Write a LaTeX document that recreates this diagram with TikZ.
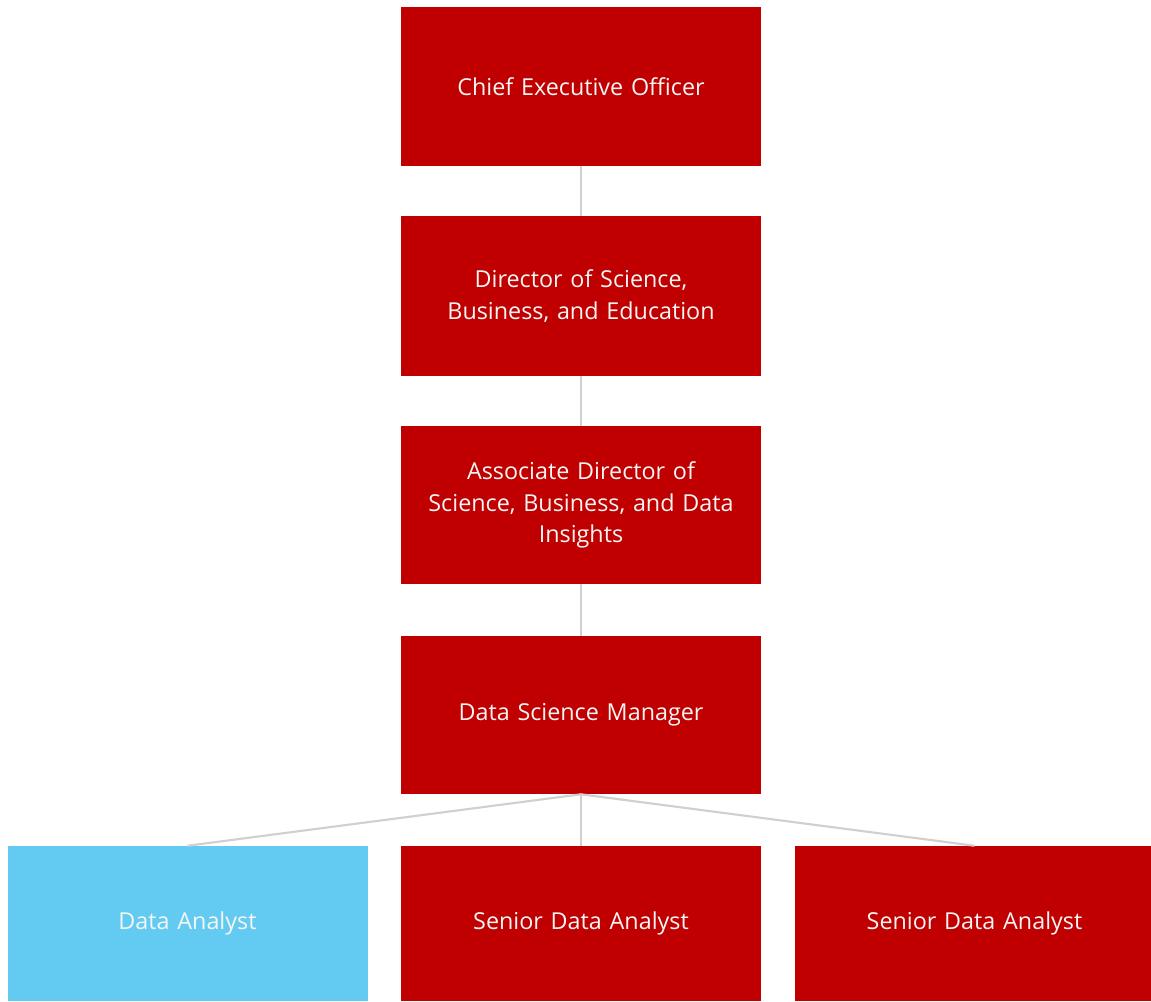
\documentclass[tikz,border=0pt]{standalone}
\usepackage{fontspec}
\setmainfont{Open Sans}
\definecolor{boxred}{HTML}{C00000}
\definecolor{boxblue}{HTML}{63CBF2}
\definecolor{linegray}{HTML}{D0D0D0}
\definecolor{txt}{HTML}{F5F5F5}
\begin{document}
\begin{tikzpicture}[x=0.75pt,y=-0.75pt,
  orgbox/.style={rectangle, fill=boxred, draw=none, minimum width=270pt, minimum height=#1, inner sep=0pt,
    text=txt, align=center, text width=260pt, font=\fontsize{17.5}{23.5}\selectfont},
  orgbox/.default=119.25pt,
  link/.style={draw=linegray, line width=1.6pt}]
\useasboundingbox (0,0) rectangle (1151,1001);
\clip (0,0) rectangle (1151,1001);
\node[orgbox=119.25pt] (ceo) at (581,86.5) {Chief Executive Officer};
\node[orgbox=120pt] (dir) at (581,296) {Director of Science,\\Business, and Education};
\node[orgbox=118.5pt] (adir) at (581,505) {Associate Director of\\Science, Business, and Data\\Insights};
\node[orgbox=118.5pt] (mgr) at (581,715) {Data Science Manager};
\node[orgbox=116.25pt, fill=boxblue] (da) at (187.5,923.5) {Data Analyst};
\node[orgbox=116.25pt] (sda1) at (581,923.5) {Senior Data Analyst};
\node[orgbox=116.25pt] (sda2) at (974.5,923.5) {Senior Data Analyst};
\draw[link] (ceo.south) -- (dir.north);
\draw[link] (dir.south) -- (adir.north);
\draw[link] (adir.south) -- (mgr.north);
\draw[link] (mgr.south) -- (da.north);
\draw[link] (mgr.south) -- (sda1.north);
\draw[link] (mgr.south) -- (sda2.north);
\end{tikzpicture}
\end{document}
